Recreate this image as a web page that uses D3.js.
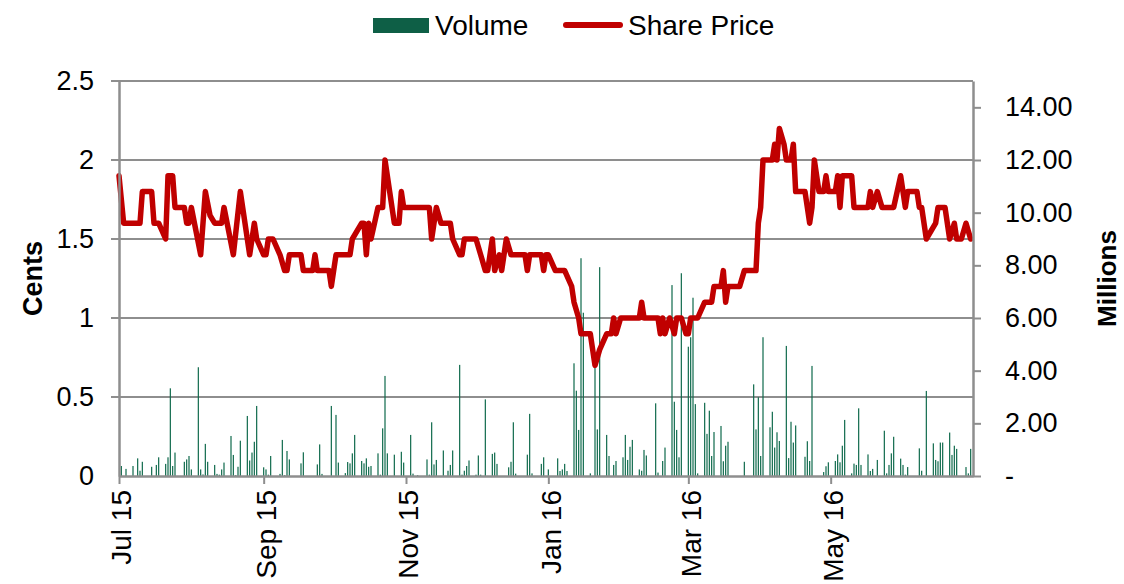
<!DOCTYPE html>
<html>
<head>
<meta charset="utf-8">
<script src="https://cdn.jsdelivr.net/npm/d3@7"></script>
<style>
  body { margin: 0; background: #fff; }
  svg text { font-family: "Liberation Sans", Arial, sans-serif; fill: #000; }
</style>
</head>
<body>
<div id="chart"></div>
<script>
// Share price (cents), change points
const priceDates = [
  "2015-07-01","2015-07-03","2015-07-10","2015-07-11","2015-07-15","2015-07-16","2015-07-18","2015-07-21","2015-07-22","2015-07-24","2015-07-25","2015-07-29","2015-07-30","2015-07-31",
  "2015-08-01","2015-08-05","2015-08-07","2015-08-09","2015-08-11","2015-08-14","2015-08-15","2015-08-19","2015-08-22","2015-08-26","2015-08-28","2015-08-29",
  "2015-09-01","2015-09-02","2015-09-03","2015-09-05","2015-09-08","2015-09-10","2015-09-11","2015-09-12","2015-09-17","2015-09-18","2015-09-22","2015-09-23","2015-09-24","2015-09-29","2015-09-30",
  "2015-10-02","2015-10-08","2015-10-09","2015-10-13","2015-10-14","2015-10-15","2015-10-16","2015-10-17","2015-10-20","2015-10-22","2015-10-23","2015-10-25","2015-10-27","2015-10-29","2015-10-30","2015-10-31",
  "2015-11-11","2015-11-12","2015-11-14","2015-11-16","2015-11-20","2015-11-21","2015-11-24","2015-11-25","2015-11-26",
  "2015-12-01","2015-12-03","2015-12-05","2015-12-06","2015-12-08","2015-12-09","2015-12-11","2015-12-12","2015-12-14","2015-12-16","2015-12-22","2015-12-23","2015-12-24","2015-12-29","2015-12-30","2015-12-31",
  "2016-01-01","2016-01-04","2016-01-08","2016-01-11","2016-01-12","2016-01-14","2016-01-15","2016-01-19","2016-01-21","2016-01-23","2016-01-26","2016-01-28","2016-01-29","2016-01-30",
  "2016-02-01","2016-02-09","2016-02-10","2016-02-11","2016-02-17","2016-02-18","2016-02-19","2016-02-20","2016-02-22","2016-02-24","2016-02-25","2016-02-27","2016-02-29",
  "2016-03-01","2016-03-02","2016-03-05","2016-03-08","2016-03-11","2016-03-12","2016-03-15","2016-03-16","2016-03-17","2016-03-18","2016-03-23","2016-03-25","2016-03-30","2016-03-31",
  "2016-04-01","2016-04-02","2016-04-06","2016-04-07","2016-04-08","2016-04-09","2016-04-11","2016-04-12","2016-04-14","2016-04-15","2016-04-16","2016-04-20","2016-04-22","2016-04-23","2016-04-24","2016-04-26","2016-04-28","2016-04-29","2016-04-30",
  "2016-05-03","2016-05-04","2016-05-05","2016-05-06","2016-05-10","2016-05-11","2016-05-17","2016-05-18","2016-05-19","2016-05-21","2016-05-23","2016-05-28","2016-05-31",
  "2016-06-02","2016-06-03","2016-06-07","2016-06-08","2016-06-09","2016-06-11","2016-06-15","2016-06-16","2016-06-19","2016-06-21","2016-06-23","2016-06-24","2016-06-26","2016-06-28","2016-06-30"
];
const priceValues = [
  1.9,1.6,1.6,1.8,1.8,1.6,1.6,1.5,1.9,1.9,1.7,1.7,1.6,1.6,
  1.7,1.4,1.8,1.65,1.6,1.6,1.7,1.4,1.8,1.4,1.6,1.5,
  1.4,1.4,1.5,1.5,1.4,1.3,1.3,1.4,1.4,1.3,1.3,1.4,1.3,1.3,1.2,
  1.4,1.4,1.5,1.6,1.6,1.4,1.6,1.5,1.7,1.7,2.0,1.8,1.6,1.6,1.8,1.7,
  1.7,1.5,1.7,1.6,1.6,1.5,1.4,1.4,1.5,
  1.5,1.4,1.3,1.3,1.5,1.3,1.4,1.3,1.5,1.4,1.4,1.3,1.4,1.4,1.3,1.4,
  1.4,1.3,1.3,1.2,1.1,1.0,0.9,0.9,0.7,0.8,0.9,0.9,1.0,0.9,
  1.0,1.0,1.1,1.0,1.0,0.9,1.0,0.9,1.0,0.9,1.0,1.0,0.9,
  0.9,1.0,1.0,1.1,1.1,1.2,1.2,1.3,1.1,1.2,1.2,1.3,1.3,1.6,
  1.7,2.0,2.0,2.1,2.0,2.2,2.1,2.0,2.0,2.1,1.8,1.8,1.6,1.7,2.0,1.8,1.8,1.9,1.8,
  1.8,1.9,1.7,1.9,1.9,1.7,1.7,1.8,1.7,1.8,1.7,1.7,1.9,
  1.7,1.8,1.8,1.7,1.7,1.5,1.6,1.7,1.7,1.5,1.6,1.5,1.5,1.6,1.5
];

// Daily volume (millions)
const volumeDates = [
  "2015-07-02","2015-07-04","2015-07-07","2015-07-09","2015-07-10","2015-07-11","2015-07-15","2015-07-17","2015-07-18","2015-07-21","2015-07-22","2015-07-23","2015-07-24","2015-07-25","2015-07-29","2015-07-30","2015-07-31",
  "2015-08-01","2015-08-04","2015-08-05","2015-08-06","2015-08-07","2015-08-08","2015-08-11","2015-08-12","2015-08-13","2015-08-14","2015-08-15","2015-08-18","2015-08-19","2015-08-20","2015-08-21","2015-08-22","2015-08-25","2015-08-26","2015-08-27","2015-08-28","2015-08-29",
  "2015-09-01","2015-09-02","2015-09-03","2015-09-04","2015-09-08","2015-09-09","2015-09-10","2015-09-11","2015-09-12","2015-09-17","2015-09-18","2015-09-24","2015-09-25","2015-09-26","2015-09-30",
  "2015-10-02","2015-10-03","2015-10-06","2015-10-07","2015-10-08","2015-10-09","2015-10-10","2015-10-13","2015-10-14","2015-10-15","2015-10-16","2015-10-17","2015-10-20","2015-10-21","2015-10-22","2015-10-23","2015-10-24","2015-10-27","2015-10-30","2015-10-31",
  "2015-11-03","2015-11-04","2015-11-06","2015-11-10","2015-11-11","2015-11-12","2015-11-13","2015-11-14","2015-11-17","2015-11-19","2015-11-20","2015-11-21","2015-11-24","2015-11-25","2015-11-26","2015-11-27","2015-11-28",
  "2015-12-01","2015-12-02","2015-12-03","2015-12-05","2015-12-08","2015-12-09","2015-12-10","2015-12-15","2015-12-16","2015-12-17","2015-12-18","2015-12-23","2015-12-24","2015-12-25","2015-12-29","2015-12-30",
  "2016-01-01","2016-01-05","2016-01-06","2016-01-07","2016-01-08","2016-01-09","2016-01-12","2016-01-13","2016-01-14","2016-01-15","2016-01-16","2016-01-19","2016-01-21","2016-01-22","2016-01-23","2016-01-26","2016-01-27","2016-01-29","2016-01-30",
  "2016-02-02","2016-02-03","2016-02-04","2016-02-05","2016-02-06","2016-02-09","2016-02-10","2016-02-11","2016-02-12","2016-02-16","2016-02-17","2016-02-19","2016-02-20","2016-02-23","2016-02-24","2016-02-25","2016-02-26","2016-02-27",
  "2016-03-01","2016-03-02","2016-03-03","2016-03-04","2016-03-05","2016-03-08","2016-03-09","2016-03-10","2016-03-11","2016-03-12","2016-03-15","2016-03-16","2016-03-17","2016-03-18","2016-03-25","2016-03-29","2016-03-30","2016-03-31",
  "2016-04-01","2016-04-02","2016-04-05","2016-04-06","2016-04-07","2016-04-08","2016-04-09","2016-04-12","2016-04-13","2016-04-14","2016-04-15","2016-04-16","2016-04-20","2016-04-21","2016-04-22","2016-04-23","2016-04-28","2016-04-29","2016-04-30",
  "2016-05-03","2016-05-04","2016-05-05","2016-05-06","2016-05-07","2016-05-10","2016-05-11","2016-05-12","2016-05-13","2016-05-14","2016-05-17","2016-05-18","2016-05-19","2016-05-21","2016-05-24","2016-05-25","2016-05-26","2016-05-27","2016-05-28","2016-05-31",
  "2016-06-01","2016-06-02","2016-06-03","2016-06-08","2016-06-09","2016-06-11","2016-06-14","2016-06-15","2016-06-16","2016-06-17","2016-06-18","2016-06-21","2016-06-22","2016-06-23","2016-06-24","2016-06-28","2016-06-29","2016-06-30"
];
const volumeValues = [
  0.38,0.27,0.38,0.67,0.2,0.54,0.35,0.42,0.71,0.46,0.71,3.33,0.38,0.89,0.54,0.63,0.76,
  0.25,4.13,0.25,0.06,1.22,0.54,0.42,0.08,0.05,0.25,0.51,1.52,0.8,0.03,0.35,1.34,2.28,0.59,0.89,1.3,2.66,
  0.33,0.25,0.05,0.76,0.08,1.37,0.03,0.95,0.63,0.48,0.9,0.44,1.2,0.08,2.66,
  2.32,0.51,0.11,0.53,0.48,0.86,1.56,0.57,0.48,0.67,0.35,0.38,0.86,0.05,1.81,3.8,0.86,0.81,0.92,0.51,
  1.56,0.09,0.03,0.63,0.05,2.04,0.44,0.61,0.97,0.2,0.42,0.97,4.22,0.05,0.2,0.38,0.59,
  0.05,0.78,0.05,2.91,0.84,0.89,0.46,0.33,0.54,2.04,0.09,0.81,2.36,0.1,0.46,0.71,
  0.25,0.67,0.19,0.25,0.46,0.19,4.28,3.24,1.75,8.27,6.2,0.1,4.15,1.77,7.93,1.56,0.76,0.42,0.57,
  0.71,1.56,0.61,1.11,1.37,0.25,0.2,0.99,0.78,2.76,0.13,0.57,1.08,7.25,2.82,1.75,0.71,7.7,
  4.91,5.27,6.77,2.73,0.1,2.78,1.6,2.48,0.76,1.67,1.9,0.56,1.15,1.3,0.54,3.48,1.77,2.99,
  0.76,5.27,1.85,2.44,1.08,1.66,1.33,4.94,0.68,2.06,1.27,1.92,0.73,1.32,0.57,4.18,0.15,0.37,0.52,
  0.57,0.82,0.52,1.15,2.13,0.1,0.47,0.42,2.57,0.42,0.82,0.19,0.27,0.61,1.72,0.1,0.42,0.86,1.49,0.66,
  0.42,0.05,0.34,1.05,0.2,3.23,1.24,0.61,0.56,1.27,1.27,1.65,0.8,1.15,1.03,0.34,0.1,1.03
];

const xTickDates = ["2015-07-01","2015-09-01","2015-11-01","2016-01-01","2016-03-01","2016-05-01"];
const xTickLabels = ["Jul 15","Sep 15","Nov 15","Jan 16","Mar 16","May 16"];
const priceTicks = [0, 0.5, 1, 1.5, 2, 2.5];
const priceTickLabels = ["0","0.5","1","1.5","2","2.5"];
const volumeTicks = [0, 2, 4, 6, 8, 10, 12, 14];
const volumeTickLabels = ["-","2.00","4.00","6.00","8.00","10.00","12.00","14.00"];

const width = 1124, height = 584;
const margin = {top: 81, right: 151, bottom: 108, left: 119};
const parse = d3.timeParse("%Y-%m-%d");
const gridColor = "#8e8e8e";

const svg = d3.select("#chart").append("svg")
    .attr("width", width)
    .attr("height", height);

let x = d3.scaleTime()
    .domain([parse("2015-07-01"), parse("2016-07-01")])
    .range([margin.left, width - margin.right]);
let y = d3.scaleLinear()
    .domain([0, 2.5])
    .range([height - margin.bottom, margin.top]);
let yVol = d3.scaleLinear()
    .domain([0, 15])
    .range([height - margin.bottom, margin.top]);

// gridlines
svg.append("g").selectAll("line")
    .data(priceTicks.slice(1))
    .enter().append("line")
    .attr("x1", margin.left - 8)
    .attr("x2", width - margin.right)
    .attr("y1", d => y(d))
    .attr("y2", d => y(d))
    .attr("stroke", gridColor)
    .attr("stroke-width", 2);

// volume bars
const volume = volumeDates.map((d, i) => ({date: parse(d), value: volumeValues[i]}));
svg.append("g").selectAll("rect")
    .data(volume)
    .enter().append("rect")
    .attr("x", d => x(d.date) - 0.6)
    .attr("width", 1.2)
    .attr("y", d => yVol(d.value))
    .attr("height", d => yVol(0) - yVol(d.value))
    .attr("fill", "#0f6a4c");

// share price line
const price = priceDates.map((d, i) => ({date: parse(d), value: priceValues[i]}));
svg.append("path")
    .datum(price)
    .attr("fill", "none")
    .attr("stroke", "#c00000")
    .attr("stroke-width", 5.5)
    .attr("stroke-linejoin", "round")
    .attr("stroke-linecap", "round")
    .attr("d", d3.line().x(d => x(d.date)).y(d => y(d.value)));

// x axis
const xAxis = svg.append("g")
    .attr("transform", `translate(0,${height - margin.bottom})`)
    .call(d3.axisBottom(x)
        .tickValues(xTickDates.map(parse))
        .tickFormat((d, i) => xTickLabels[i])
        .tickSize(8)
        .tickSizeOuter(0));
xAxis.select(".domain").attr("stroke", gridColor).attr("stroke-width", 2.5);
xAxis.selectAll(".tick line").attr("stroke", gridColor).attr("stroke-width", 2);
xAxis.selectAll(".tick text")
    .attr("font-size", 28)
    .attr("text-anchor", "end")
    .attr("transform", "translate(0,14) rotate(-90)")
    .attr("x", 0)
    .attr("y", 0)
    .attr("dy", "0.42em");

// left axis (no tick marks, gridlines stick out instead)
const yAxis = svg.append("g")
    .attr("transform", `translate(${margin.left},0)`)
    .call(d3.axisLeft(y)
        .tickValues(priceTicks)
        .tickFormat((d, i) => priceTickLabels[i])
        .tickSize(0)
        .tickPadding(25));
yAxis.select(".domain").attr("stroke", gridColor).attr("stroke-width", 2.5);
yAxis.selectAll(".tick text").attr("font-size", 27);

// right axis
const yAxisR = svg.append("g")
    .attr("transform", `translate(${width - margin.right},0)`)
    .call(d3.axisRight(yVol)
        .tickValues(volumeTicks)
        .tickFormat((d, i) => volumeTickLabels[i])
        .tickSize(8)
        .tickSizeOuter(0)
        .tickPadding(24));
yAxisR.select(".domain").attr("stroke", gridColor).attr("stroke-width", 2.5);
yAxisR.selectAll(".tick line").attr("stroke", gridColor).attr("stroke-width", 2);
yAxisR.selectAll(".tick text").attr("font-size", 27);
svg.selectAll(".tick text").style("font-family", "'Liberation Sans', Arial, sans-serif");

// axis titles
const midY = (margin.top + height - margin.bottom) / 2;
svg.append("text")
    .attr("transform", `translate(42,${midY}) rotate(-90)`)
    .attr("text-anchor", "middle")
    .attr("font-size", 27)
    .attr("font-weight", "bold")
    .text("Cents");
svg.append("text")
    .attr("transform", `translate(1116,${midY}) rotate(-90)`)
    .attr("text-anchor", "middle")
    .attr("font-size", 26)
    .attr("font-weight", "bold")
    .text("Millions");

// legend
const legend = svg.append("g");
legend.append("rect")
    .attr("x", 373).attr("y", 18)
    .attr("width", 56).attr("height", 15)
    .attr("fill", "#0e5f46");
legend.append("text")
    .attr("x", 435).attr("y", 35)
    .attr("font-size", 28)
    .text("Volume");
legend.append("line")
    .attr("x1", 566).attr("x2", 620)
    .attr("y1", 25).attr("y2", 25)
    .attr("stroke", "#c00000")
    .attr("stroke-width", 6)
    .attr("stroke-linecap", "round");
legend.append("text")
    .attr("x", 628).attr("y", 35)
    .attr("font-size", 28)
    .text("Share Price");
</script>
</body>
</html>
